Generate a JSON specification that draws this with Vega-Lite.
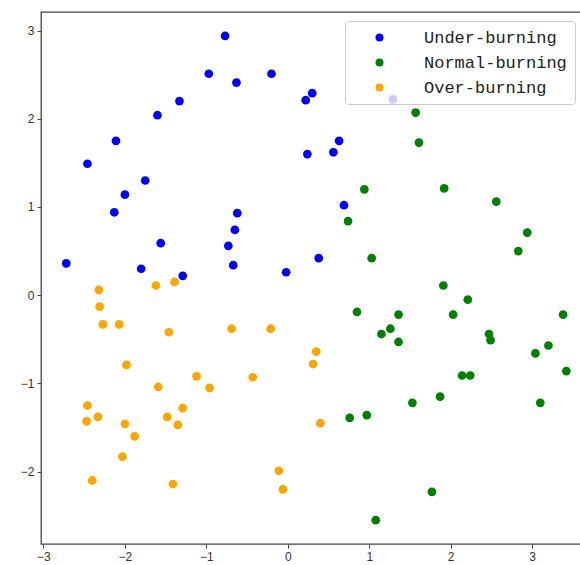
{
  "$schema": "https://vega.github.io/schema/vega-lite/v6.json",
  "width": 540,
  "height": 532,
  "autosize": {"type": "none"},
  "padding": {"left": 41, "top": 12, "right": 0, "bottom": 21},
  "background": "white",
  "config": {
    "view": {"stroke": "#444", "strokeWidth": 1.3},
    "axis": {
      "domain": false,
      "grid": false,
      "ticks": true,
      "tickColor": "#444",
      "tickSize": 4,
      "labelFont": "Liberation Sans",
      "labelFontSize": 12,
      "labelColor": "#333",
      "labelPadding": 3,
      "title": null
    }
  },
  "data": {
    "values": [
      {"x": -2.72, "y": 0.36, "c": "Under-burning"},
      {"x": -2.46, "y": 1.49, "c": "Under-burning"},
      {"x": -2.11, "y": 1.75, "c": "Under-burning"},
      {"x": -2.13, "y": 0.94, "c": "Under-burning"},
      {"x": -2.0, "y": 1.14, "c": "Under-burning"},
      {"x": -1.75, "y": 1.30, "c": "Under-burning"},
      {"x": -1.60, "y": 2.04, "c": "Under-burning"},
      {"x": -1.56, "y": 0.59, "c": "Under-burning"},
      {"x": -1.80, "y": 0.30, "c": "Under-burning"},
      {"x": -1.33, "y": 2.20, "c": "Under-burning"},
      {"x": -1.29, "y": 0.22, "c": "Under-burning"},
      {"x": -0.97, "y": 2.51, "c": "Under-burning"},
      {"x": -0.77, "y": 2.94, "c": "Under-burning"},
      {"x": -0.63, "y": 2.41, "c": "Under-burning"},
      {"x": -0.62, "y": 0.93, "c": "Under-burning"},
      {"x": -0.65, "y": 0.74, "c": "Under-burning"},
      {"x": -0.73, "y": 0.56, "c": "Under-burning"},
      {"x": -0.67, "y": 0.34, "c": "Under-burning"},
      {"x": -0.20, "y": 2.51, "c": "Under-burning"},
      {"x": -0.02, "y": 0.26, "c": "Under-burning"},
      {"x": 0.22, "y": 2.21, "c": "Under-burning"},
      {"x": 0.30, "y": 2.29, "c": "Under-burning"},
      {"x": 0.24, "y": 1.60, "c": "Under-burning"},
      {"x": 0.63, "y": 1.75, "c": "Under-burning"},
      {"x": 0.56, "y": 1.62, "c": "Under-burning"},
      {"x": 0.69, "y": 1.02, "c": "Under-burning"},
      {"x": 0.38, "y": 0.42, "c": "Under-burning"},
      {"x": 1.29, "y": 2.22, "c": "Under-burning"},
      {"x": 1.57, "y": 2.07, "c": "Normal-burning"},
      {"x": 1.61, "y": 1.73, "c": "Normal-burning"},
      {"x": 0.94, "y": 1.20, "c": "Normal-burning"},
      {"x": 1.92, "y": 1.21, "c": "Normal-burning"},
      {"x": 2.56, "y": 1.06, "c": "Normal-burning"},
      {"x": 2.94, "y": 0.71, "c": "Normal-burning"},
      {"x": 2.83, "y": 0.50, "c": "Normal-burning"},
      {"x": 0.74, "y": 0.84, "c": "Normal-burning"},
      {"x": 1.03, "y": 0.42, "c": "Normal-burning"},
      {"x": 1.91, "y": 0.11, "c": "Normal-burning"},
      {"x": 2.21, "y": -0.05, "c": "Normal-burning"},
      {"x": 0.85, "y": -0.19, "c": "Normal-burning"},
      {"x": 1.36, "y": -0.22, "c": "Normal-burning"},
      {"x": 2.03, "y": -0.22, "c": "Normal-burning"},
      {"x": 3.38, "y": -0.22, "c": "Normal-burning"},
      {"x": 1.26, "y": -0.38, "c": "Normal-burning"},
      {"x": 1.15, "y": -0.44, "c": "Normal-burning"},
      {"x": 1.36, "y": -0.53, "c": "Normal-burning"},
      {"x": 2.47, "y": -0.44, "c": "Normal-burning"},
      {"x": 2.49, "y": -0.51, "c": "Normal-burning"},
      {"x": 3.20, "y": -0.57, "c": "Normal-burning"},
      {"x": 3.04, "y": -0.66, "c": "Normal-burning"},
      {"x": 3.42, "y": -0.86, "c": "Normal-burning"},
      {"x": 2.14, "y": -0.91, "c": "Normal-burning"},
      {"x": 2.24, "y": -0.91, "c": "Normal-burning"},
      {"x": 1.87, "y": -1.15, "c": "Normal-burning"},
      {"x": 1.53, "y": -1.22, "c": "Normal-burning"},
      {"x": 3.10, "y": -1.22, "c": "Normal-burning"},
      {"x": 0.76, "y": -1.39, "c": "Normal-burning"},
      {"x": 0.97, "y": -1.36, "c": "Normal-burning"},
      {"x": 1.77, "y": -2.23, "c": "Normal-burning"},
      {"x": 1.08, "y": -2.55, "c": "Normal-burning"},
      {"x": 0.35, "y": -0.64, "c": "Over-burning"},
      {"x": 0.31, "y": -0.78, "c": "Over-burning"},
      {"x": 0.40, "y": -1.45, "c": "Over-burning"},
      {"x": -2.32, "y": 0.06, "c": "Over-burning"},
      {"x": -2.31, "y": -0.13, "c": "Over-burning"},
      {"x": -2.27, "y": -0.33, "c": "Over-burning"},
      {"x": -2.07, "y": -0.33, "c": "Over-burning"},
      {"x": -1.62, "y": 0.11, "c": "Over-burning"},
      {"x": -1.39, "y": 0.15, "c": "Over-burning"},
      {"x": -1.46, "y": -0.42, "c": "Over-burning"},
      {"x": -0.69, "y": -0.38, "c": "Over-burning"},
      {"x": -0.21, "y": -0.38, "c": "Over-burning"},
      {"x": -1.98, "y": -0.79, "c": "Over-burning"},
      {"x": -1.12, "y": -0.92, "c": "Over-burning"},
      {"x": -0.96, "y": -1.05, "c": "Over-burning"},
      {"x": -0.43, "y": -0.93, "c": "Over-burning"},
      {"x": -1.59, "y": -1.04, "c": "Over-burning"},
      {"x": -2.46, "y": -1.25, "c": "Over-burning"},
      {"x": -2.47, "y": -1.43, "c": "Over-burning"},
      {"x": -2.33, "y": -1.38, "c": "Over-burning"},
      {"x": -2.0, "y": -1.46, "c": "Over-burning"},
      {"x": -1.88, "y": -1.60, "c": "Over-burning"},
      {"x": -2.03, "y": -1.83, "c": "Over-burning"},
      {"x": -2.40, "y": -2.10, "c": "Over-burning"},
      {"x": -1.48, "y": -1.38, "c": "Over-burning"},
      {"x": -1.35, "y": -1.47, "c": "Over-burning"},
      {"x": -1.29, "y": -1.28, "c": "Over-burning"},
      {"x": -1.41, "y": -2.14, "c": "Over-burning"},
      {"x": -0.11, "y": -1.99, "c": "Over-burning"},
      {"x": -0.06, "y": -2.20, "c": "Over-burning"}
    ]
  },
  "mark": {"type": "point", "filled": true, "opacity": 1, "size": 76, "shape": "circle"},
  "encoding": {
    "x": {
      "field": "x",
      "type": "quantitative",
      "scale": {"domain": [-3.03, 3.6], "nice": false, "zero": false},
      "axis": {"values": [-3, -2, -1, 0, 1, 2, 3], "labelExpr": "replace(datum.label, '-', '−')"}
    },
    "y": {
      "field": "y",
      "type": "quantitative",
      "scale": {"domain": [-2.82, 3.21], "nice": false, "zero": false},
      "axis": {"values": [-2, -1, 0, 1, 2, 3], "labelExpr": "replace(datum.label, '-', '−')"}
    },
    "color": {
      "field": "c",
      "type": "nominal",
      "scale": {
        "domain": ["Under-burning", "Normal-burning", "Over-burning"],
        "range": ["#0000ff", "#008000", "#ffa500"]
      },
      "legend": {
        "title": null,
        "orient": "none",
        "legendX": 304,
        "legendY": 9,
        "fillColor": "rgba(255,255,255,0.8)",
        "strokeColor": "#cccccc",
        "cornerRadius": 3,
        "padding": 8,
        "symbolOffset": 18,
        "symbolSize": 64,
        "symbolType": "circle",
        "symbolOpacity": 1,
        "labelOffset": 36,
        "labelFont": "Liberation Mono",
        "labelFontSize": 17,
        "labelColor": "#222",
        "rowPadding": 7,
        "labelLimit": 300
      }
    }
  }
}
